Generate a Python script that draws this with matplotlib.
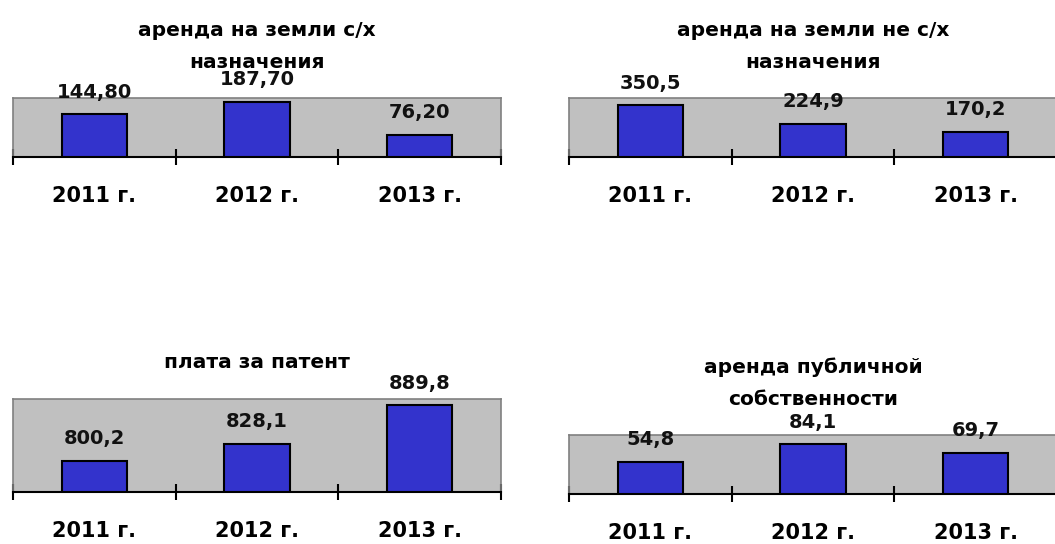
import matplotlib.pyplot as plt

plt.rcParams['font.family'] = ['DejaVu Sans']

years = ["2011 г.", "2012 г.", "2013 г."]

titles = [
    "аренда на земли с/х\nназначения",
    "аренда на земли не с/х\nназначения",
    "плата за патент",
    "аренда публичной\nсобственности",
]
values = [
    [144.80, 187.70, 76.20],
    [350.5, 224.9, 170.2],
    [800.2, 828.1, 889.8],
    [54.8, 84.1, 69.7],
]
value_labels = [
    ["144,80", "187,70", "76,20"],
    ["350,5", "224,9", "170,2"],
    ["800,2", "828,1", "889,8"],
    ["54,8", "84,1", "69,7"],
]
y_limits = [(0, 200), (0, 400), (750, 900), (0, 100)]

# axes positions in figure fraction [left, bottom, width, height]
positions = [
    [0.0123, 0.7114, 0.4626, 0.1085],
    [0.5393, 0.7114, 0.4626, 0.1085],
    [0.0123, 0.0956, 0.4626, 0.1710],
    [0.5393, 0.0919, 0.4626, 0.1085],
]

fig = plt.figure(figsize=(10.55, 5.44), dpi=100)

for title, vals, labs, ylim, pos in zip(titles, values, value_labels, y_limits, positions):
    ax = fig.add_axes(pos)
    ax.set_facecolor('#C0C0C0')
    x = range(len(years))
    base = ylim[0]
    ax.bar(x, [v - base for v in vals], bottom=base, width=0.4, color='#3333CC',
           edgecolor='black', linewidth=1.5, zorder=3)
    ax.set_xlim(-0.5, 2.5)
    ax.set_ylim(*ylim)

    for xi, v, lab in zip(x, vals, labs):
        ax.annotate(lab, (xi, v), textcoords='offset points', xytext=(0, 16),
                    ha='center', va='center', fontsize=14, fontweight='bold',
                    color='#111111', annotation_clip=False)

    for side in ['top', 'left', 'right']:
        ax.spines[side].set_color('#808080')
        ax.spines[side].set_linewidth(1.2)
    ax.spines['bottom'].set_color('black')
    ax.spines['bottom'].set_linewidth(1.5)
    ax.set_yticks([])

    # tick marks at category boundaries, labels at centers
    ax.set_xticks([-0.5, 0.5, 1.5, 2.5])
    ax.set_xticklabels([])
    ax.tick_params(axis='x', which='major', direction='inout', length=12, width=1.5,
                   color='black')
    ax.set_xticks([0, 1, 2], minor=True)
    ax.set_xticklabels(years, minor=True, fontsize=15, fontweight='bold')
    ax.tick_params(axis='x', which='minor', length=0, pad=21)

    n_lines = title.count('\n') + 1
    off = 37 if n_lines == 2 else 26
    ax.annotate(title, (0.5, 1.0), xycoords='axes fraction', textcoords='offset points',
                xytext=(0, off), ha='center', va='center', fontsize=14.5,
                fontweight='bold', linespacing=1.85, annotation_clip=False)

fig.savefig('out.png', dpi=100)
